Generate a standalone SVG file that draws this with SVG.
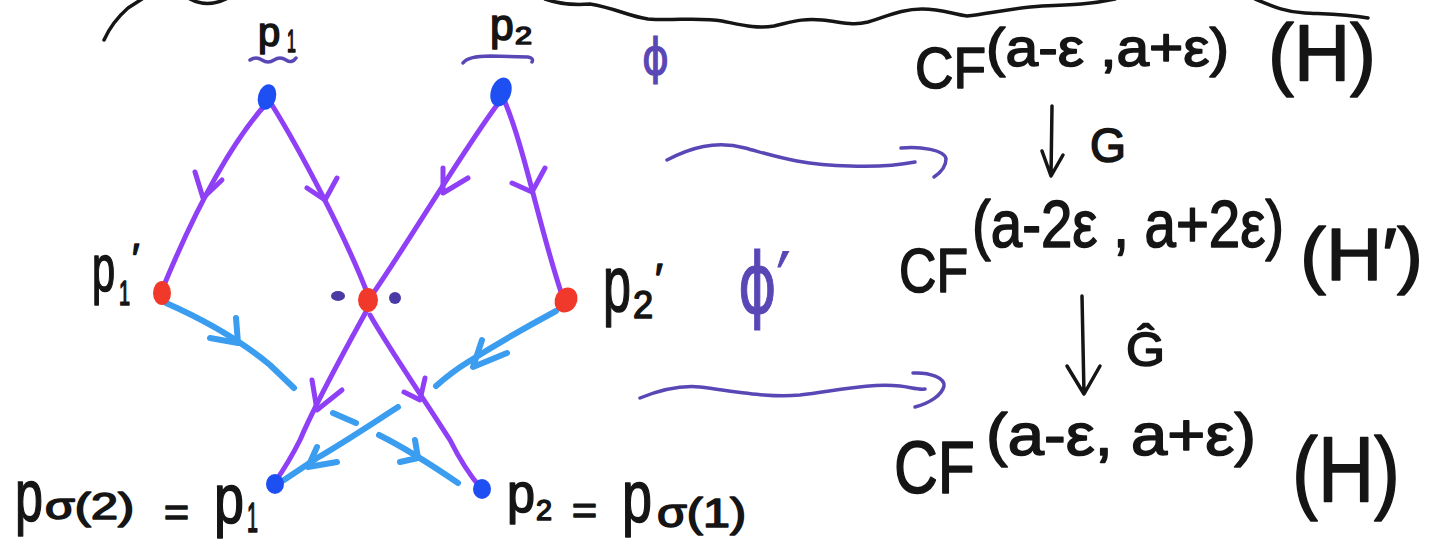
<svg xmlns="http://www.w3.org/2000/svg" width="1432" height="540" viewBox="0 0 1432 540">
<style>
.t{font-family:"Liberation Sans",Arial,sans-serif;fill:#151515;stroke:#151515;stroke-width:1.6;stroke-linejoin:round}
.g{font-family:"DejaVu Sans",sans-serif;fill:#5a47b6;stroke:#5a47b6;stroke-width:1.2}
.ink{fill:none;stroke:#151515;stroke-width:3.5;stroke-linecap:round;stroke-linejoin:round}
.vi{fill:none;stroke:#5a47b6;stroke-width:3.5;stroke-linecap:round;stroke-linejoin:round}
.pe{fill:none;stroke:#8f3ff5;stroke-width:5;stroke-linecap:round;stroke-linejoin:round}
.be{fill:none;stroke:#3b9df0;stroke-width:6;stroke-linecap:round;stroke-linejoin:round}
.blue{fill:#1e4ff2}
.red{fill:#f1392b}
.dot{fill:#4a3aa6}
</style>
<rect width="1432" height="540" fill="#ffffff"/>

<g id="top-scribble">
<path class="ink" d="M104,40 Q112,22 128,8 L142,-1"/>
<path class="ink" d="M190,-1 Q207,8 226,-1"/>
<path class="ink" d="M545,-1 Q565,6 590,4 C615,8 628,16 648,19 C672,21 700,17 722,21 C742,25 756,29 774,26 C792,22 802,18 822,20 C842,22 852,26 868,22 C888,16 902,9 922,9 C942,9 952,14 967,16 C987,14 1012,8 1042,6 C1072,5 1092,4 1115,-1"/>
<path class="ink" d="M1255,-1 C1272,6 1285,12 1305,13 C1325,14 1345,14 1368,18"/>
</g>

<g id="connectors">
<path class="pe" d="M265,105 C230,145 195,210 162,290"/>
<path class="pe" d="M195,172 L203,198 L222,180"/>
<path class="pe" d="M272,105 C300,150 345,235 368,295"/>
<path class="pe" d="M307,188 L325,200 L337,178"/>
<path class="pe" d="M497,105 C460,155 410,240 372,295"/>
<path class="pe" d="M443,168 L443,193 L468,178"/>
<path class="pe" d="M505,102 C525,150 540,230 562,295"/>
<path class="pe" d="M512,183 L532,192 L545,168"/>
<path class="pe" d="M367,310 C345,350 317,400 300,440 C290,460 282,472 275,482"/>
<path class="pe" d="M312,380 L317,410 L342,390"/>
<path class="pe" d="M370,315 C390,350 420,393 450,440 C460,460 468,473 480,487"/>
<path class="pe" d="M404,392 L420,400 L425,378"/>
<path class="be" d="M166,303 C200,318 240,340 270,365 L294,388"/>
<path class="be" d="M236,318 L238,343 L210,338"/>
<path class="be" d="M333,413 L356,423"/>
<path class="be" d="M379,435 C395,443 420,457 458,483"/>
<path class="be" d="M415,440 L418,458 L400,462"/>
<path class="be" d="M556,311 C530,325 495,345 468,362 C455,370 445,378 436,386"/>
<path class="be" d="M482,340 L473,367 L507,353"/>
<path class="be" d="M398,407 C370,425 340,445 317,458 L284,480"/>
<path class="be" d="M317,447 L308,467 L337,462"/>
<path class="vi" d="M667,160 C690,148 715,140 745,148 C775,156 800,165 850,166 C880,167 900,165 915,162"/>
<path class="vi" d="M901,148 C920,146 945,150 946,159 C946,167 940,173 934,177"/>
<path class="vi" d="M640,398 C660,390 680,385 700,387 C740,392 770,398 800,395 C840,390 870,383 900,386 C910,387 918,390 925,389"/>
<path class="vi" d="M913,373 C930,372 945,378 944,386 C942,395 930,403 915,407"/>
<path class="ink" d="M1052,106 L1051,176 M1042,151 L1051,176 L1063,155"/>
<path class="ink" d="M1082,296 L1084,394 M1067,366 L1084,394 L1100,366"/>
</g>

<g id="n-top1"><ellipse class="blue" cx="267" cy="97" rx="9" ry="13" transform="rotate(15 267 97)"/></g>
<g id="n-top2"><ellipse class="blue" cx="501" cy="92" rx="10" ry="15" transform="rotate(20 501 92)"/></g>
<g id="n-p1prime"><ellipse class="red" cx="162" cy="293" rx="9" ry="12"/></g>
<g id="n-mid"><ellipse class="red" cx="368" cy="300" rx="10" ry="12"/>
<ellipse class="dot" cx="338" cy="296" rx="7" ry="5"/><ellipse class="dot" cx="395" cy="298" rx="6" ry="6"/></g>
<g id="n-p2prime"><ellipse class="red" cx="566" cy="300" rx="11" ry="13" transform="rotate(30 566 300)"/></g>
<g id="n-bot1"><ellipse class="blue" cx="275" cy="484" rx="9" ry="10"/></g>
<g id="n-bot2"><ellipse class="blue" cx="482" cy="489" rx="9" ry="10"/></g>

<g id="label-p1">
<text class="t" font-size="40" transform="translate(258,46)">p</text>
<text class="t" font-size="32" transform="translate(287,52) scale(0.5,1)">1</text>
<path class="vi" d="M250,60 Q256,56 262,60 T274,60 T286,60 T296,58"/>
</g>
<g id="label-p2">
<text class="t" font-size="44" transform="translate(490,40) scale(0.97,1)">p</text>
<text class="t" x="515" y="44" font-size="24" textLength="17" lengthAdjust="spacingAndGlyphs">2</text>
<path class="vi" d="M463,63 Q468,56 490,56 L528,57 Q534,58 532,62"/>
</g>
<g id="label-phi">
<text class="g" x="642" y="74" font-size="50" textLength="27" lengthAdjust="spacingAndGlyphs">ϕ</text>
</g>
<g id="label-p1prime">
<text class="t" font-size="66" transform="translate(92,291) scale(0.63,1)">p</text>
<text class="t" font-size="35" transform="translate(119,305) scale(0.57,1)">1</text>
<text class="t" x="132" y="272" font-size="40">′</text>
</g>
<g id="label-p2prime">
<text class="t" font-size="78" transform="translate(603,311) scale(0.645,1)">p</text>
<text class="t" font-size="39" transform="translate(633,318) scale(0.93,1)">2</text>
<text class="t" x="655" y="293" font-size="42">′</text>
</g>
<g id="label-phiprime">
<text class="g" x="738" y="313" font-size="84" textLength="52" lengthAdjust="spacingAndGlyphs">ϕ′</text>
</g>
<g id="label-bottom-left">
<text class="t" font-size="74" transform="translate(15,521) scale(0.68,1)">p</text>
<text class="t" x="45" y="519" font-size="36" textLength="89" lengthAdjust="spacingAndGlyphs">σ(2)</text>
<text class="t" x="164" y="526" font-size="40" textLength="25" lengthAdjust="spacingAndGlyphs">=</text>
<text class="t" font-size="70" transform="translate(214,523) scale(0.77,1)">p</text>
<text class="t" font-size="42" transform="translate(247,532) scale(0.47,1)">1</text>
</g>
<g id="label-bottom-right">
<text class="t" font-size="55" transform="translate(507,512) scale(0.915,1)">p</text>
<text class="t" font-size="30" transform="translate(536,520) scale(0.96,1)">2</text>
<text class="t" x="572" y="524" font-size="38" textLength="25" lengthAdjust="spacingAndGlyphs">=</text>
<text class="t" font-size="75" transform="translate(622,522) scale(0.72,1)">p</text>
<text class="t" x="657" y="527" font-size="40" textLength="89" lengthAdjust="spacingAndGlyphs">σ(1)</text>
</g>

<g id="cf-top">
<text class="t" font-size="58" transform="translate(915,88) scale(0.918,1)">CF</text>
<text class="t" x="986" y="66" font-size="54" textLength="243" lengthAdjust="spacingAndGlyphs">(a-ε ,a+ε)</text>
<text class="t" x="1268" y="80" font-size="80" textLength="108" lengthAdjust="spacingAndGlyphs">(H)</text>
</g>
<g id="label-G">
<text class="t" x="1090" y="162" font-size="48" textLength="36" lengthAdjust="spacingAndGlyphs">G</text>
</g>
<g id="cf-mid">
<text class="t" font-size="62" transform="translate(899,292) scale(0.835,1)">CF</text>
<text class="t" font-size="66" transform="translate(972,247) scale(0.855,1)">(a-2ε , a+2ε)</text>
<text class="t" x="1300" y="280" font-size="75" textLength="123" lengthAdjust="spacingAndGlyphs">(H′)</text>
</g>
<g id="label-Ghat">
<text class="t" x="1126" y="366" font-size="48" textLength="39" lengthAdjust="spacingAndGlyphs">Ĝ</text>
</g>
<g id="cf-bot">
<text class="t" font-size="74" transform="translate(894,493) scale(0.82,1)">CF</text>
<text class="t" x="986" y="455" font-size="60" textLength="270" lengthAdjust="spacingAndGlyphs">(a-ε, a+ε)</text>
<text class="t" x="1292" y="502" font-size="92" textLength="108" lengthAdjust="spacingAndGlyphs">(H)</text>
</g>
</svg>
